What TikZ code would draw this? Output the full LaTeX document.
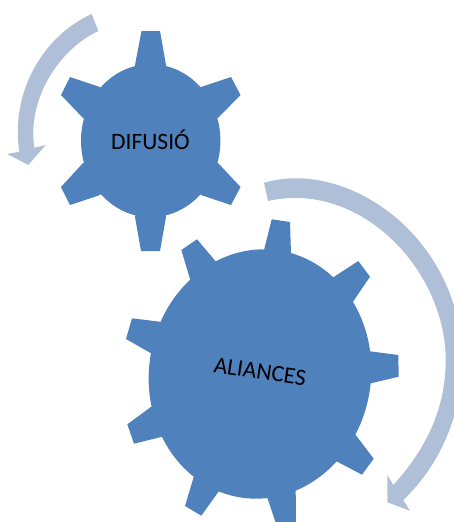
\documentclass[tikz,border=0pt]{standalone}
\usepackage{fontspec}
\setmainfont{Carlito}
\definecolor{gearblue}{HTML}{4F81BD}
\definecolor{arrowblue}{HTML}{B0BFD8}
\tikzset{
  gearpart/.style={fill=gearblue,draw=none},
  turnarrow/.style={fill=arrowblue,draw=none},
  gearlabel/.style={font=\fontsize{23.5}{27}\selectfont,text=black,inner sep=0pt}
}
\begin{document}
\begin{tikzpicture}[x=1pt,y=-1pt]
\useasboundingbox (0,0) rectangle (454,522);
\clip (0,0) rectangle (454,522);
% first arrow
\fill[turnarrow] (91.7,14) .. controls (45,35) and (10,90) .. (19.3,151.7)
  -- (7.3,154) -- (28.3,165) -- (45.7,145) -- (34.3,147.7)
  .. controls (27,100) and (58,50) .. (98.3,31) -- cycle;
% second arrow
\fill[turnarrow] (264,182.7) .. controls (350,158) and (462,240) .. (462,360)
  .. controls (462,415) and (440,465) .. (403.3,500)
  -- (410,510.7) -- (387.3,502.3) -- (387.3,475) -- (393.3,485)
  .. controls (425,450) and (445.7,410) .. (445.7,360)
  .. controls (445.7,270) and (360,180) .. (268,201) -- cycle;
% first gear
\fill[gearpart] (150.7,140.7) ellipse [x radius=69.7, y radius=76.5];
\foreach \p in {
  {(135,65)--(141.5,31)--(160,31)--(166,65)},
  {(201,87)--(231,77)--(240.5,95)--(218,118)},
  {(218,163)--(240.5,187)--(231,205)--(201,195)},
  {(166,217)--(160,251)--(141,251)--(135,217)},
  {(100,195)--(70,205)--(61,187)--(83,163)},
  {(83,118)--(61,95)--(70,77)--(100,87)}}
  {\fill[gearpart] \p -- (150.7,140.7) -- cycle;}
\node[gearlabel] (difusio) at (150.5,140) {DIFUSIÓ};
% second gear
\fill[gearpart,rotate around={-8.5:(260,374)}] (260,374) ellipse [x radius=111, y radius=125];
\foreach \p in {
  {(264,250)--(271.7,219.3)--(290,222)--(291,253.3)},
  {(333.3,277.3)--(358.3,261)--(370,276.7)--(353,301.7)},
  {(370,351.3)--(398.3,355)--(398.7,376.7)--(370.7,383.3)},
  {(355.7,435)--(373.7,458.7)--(362,474.7)--(337.3,461.7)},
  {(295.7,490)--(296,525)--(276.5,525)--(267.3,497.7)},
  {(219,491)--(201.3,515.7)--(185,506)--(194,476)},
  {(162.3,436.7)--(134,443.7)--(127.3,424.3)--(151.3,406.7)},
  {(150,352.7)--(126,339)--(132,318.3)--(159.7,321.7)},
  {(190,279)--(181.3,250)--(197,239.3)--(216,261.7)}}
  {\fill[gearpart] \p -- (260,374) -- cycle;}
\node[gearlabel,rotate=-8.5] (aliances) at (260,371.7) {ALIANCES};
\end{tikzpicture}
\end{document}
